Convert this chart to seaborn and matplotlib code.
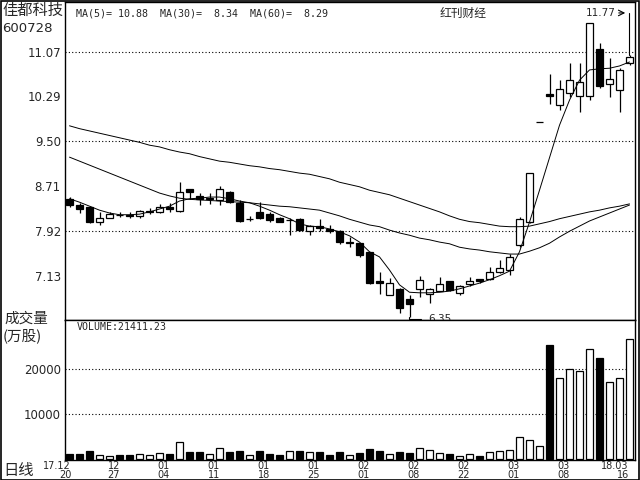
import numpy as np
import pandas as pd
import matplotlib
matplotlib.use("Agg")
import matplotlib.pyplot as plt
import matplotlib.transforms as mtransforms
import seaborn as sns

sns.set_style("white")
plt.rcParams['font.family'] = ['DejaVu Sans', 'Noto Sans CJK SC']

# trading days 2017-12-20 .. 2018-03-16
dates = ['2017-12-20', '2017-12-21', '2017-12-22', '2017-12-25', '2017-12-26', '2017-12-27',
         '2017-12-28', '2017-12-29', '2018-01-02', '2018-01-03', '2018-01-04', '2018-01-05',
         '2018-01-08', '2018-01-09', '2018-01-10', '2018-01-11', '2018-01-12', '2018-01-15',
         '2018-01-16', '2018-01-17', '2018-01-18', '2018-01-19', '2018-01-22', '2018-01-23',
         '2018-01-24', '2018-01-25', '2018-01-26', '2018-01-29', '2018-01-30', '2018-01-31',
         '2018-02-01', '2018-02-02', '2018-02-05', '2018-02-06', '2018-02-07', '2018-02-08',
         '2018-02-09', '2018-02-12', '2018-02-13', '2018-02-14', '2018-02-22', '2018-02-23',
         '2018-02-26', '2018-02-27', '2018-02-28', '2018-03-01', '2018-03-02', '2018-03-05',
         '2018-03-06', '2018-03-07', '2018-03-08', '2018-03-09', '2018-03-12', '2018-03-13',
         '2018-03-14', '2018-03-15', '2018-03-16']

opens = [8.49, 8.38, 8.35, 8.09, 8.16, 8.21, 8.20, 8.18, 8.26, 8.26,
         8.35, 8.28, 8.66, 8.54, 8.48, 8.47, 8.60, 8.42, 8.13, 8.25,
         8.22, 8.16, 8.11, 8.13, 7.92, 8.02, 7.96, 7.93, 7.72, 7.71,
         7.55, 7.05, 6.81, 6.90, 6.74, 6.90, 6.82, 6.88, 7.04, 6.84,
         6.99, 7.08, 7.08, 7.21, 7.24, 7.68, 8.08, 9.83, 10.32, 10.14,
         10.34, 10.30, 10.29, 11.12, 10.50, 10.39, 10.87]
highs = [8.52, 8.42, 8.36, 8.25, 8.25, 8.25, 8.25, 8.29, 8.32, 8.39,
         8.41, 8.79, 8.67, 8.59, 8.59, 8.71, 8.62, 8.46, 8.18, 8.44,
         8.25, 8.17, 8.15, 8.15, 8.03, 8.13, 8.03, 7.94, 7.82, 7.71,
         7.56, 7.21, 7.10, 6.93, 6.80, 7.13, 6.93, 7.11, 7.05, 6.98,
         7.11, 7.09, 7.30, 7.42, 7.52, 8.17, 8.94, 9.83, 10.68, 10.57,
         10.87, 10.87, 11.57, 11.22, 10.96, 10.78, 11.01]
lows = [8.35, 8.24, 8.07, 8.03, 8.15, 8.17, 8.15, 8.16, 8.22, 8.24,
        8.26, 8.25, 8.49, 8.38, 8.40, 8.38, 8.42, 8.09, 8.10, 8.13,
        8.09, 8.08, 7.85, 7.93, 7.85, 7.93, 7.89, 7.70, 7.64, 7.46,
        6.99, 6.82, 6.80, 6.48, 6.42, 6.77, 6.66, 6.87, 6.87, 6.80,
        6.96, 7.01, 7.07, 7.18, 7.15, 7.65, 8.06, 9.83, 10.15, 10.05,
        10.28, 10.01, 10.22, 10.43, 10.27, 10.02, 10.84]
closes = [8.38, 8.31, 8.09, 8.15, 8.22, 8.20, 8.19, 8.28, 8.27, 8.35,
          8.31, 8.61, 8.60, 8.48, 8.50, 8.66, 8.43, 8.10, 8.14, 8.16,
          8.12, 8.09, 8.12, 7.94, 8.01, 7.97, 7.92, 7.74, 7.73, 7.50,
          7.01, 7.01, 7.01, 6.57, 6.64, 7.06, 6.90, 6.99, 6.89, 6.96,
          7.05, 7.05, 7.21, 7.27, 7.47, 8.13, 8.94, 9.83, 10.30, 10.41,
          10.57, 10.54, 11.57, 10.46, 10.59, 10.75, 10.98]
volumes = [1040, 1180, 1780, 890, 670, 890, 890, 1040, 890, 1410,
           1110, 3700, 1480, 1480, 1040, 2370, 1480, 1780, 890, 1780,
           1110, 890, 1780, 1780, 1480, 1480, 890, 1480, 890, 1330,
           2220, 1780, 1110, 1480, 1330, 2440, 1930, 1330, 1110, 670,
           1040, 740, 1480, 1780, 2000, 4890, 4150, 2890, 25330, 17930,
           20000, 19560, 24370, 22370, 17040, 17930, 26590]
ma5 = [8.49, 8.43, 8.36, 8.29, 8.24, 8.21, 8.21, 8.22, 8.26, 8.31,
       8.36, 8.45, 8.49, 8.50, 8.52, 8.52, 8.49, 8.45, 8.42, 8.36,
       8.29, 8.21, 8.14, 8.05, 8.01, 8.00, 7.96, 7.91, 7.84, 7.73,
       7.56, 7.47, 7.24, 6.98, 6.85, 6.84, 6.84, 6.85, 6.87, 6.91,
       6.96, 7.01, 7.07, 7.14, 7.22, 7.56, 8.08, 8.64, 9.21, 9.78,
       10.22, 10.57, 10.75, 10.77, 10.78, 10.82, 10.89]
ma30 = [9.22, 9.15, 9.08, 9.01, 8.94, 8.87, 8.80, 8.73, 8.66, 8.59,
        8.54, 8.50, 8.48, 8.47, 8.46, 8.45, 8.44, 8.43, 8.42, 8.40,
        8.38, 8.36, 8.35, 8.33, 8.31, 8.29, 8.24, 8.19, 8.13, 8.08,
        8.03, 8.00, 7.94, 7.89, 7.85, 7.80, 7.77, 7.73, 7.70, 7.64,
        7.61, 7.59, 7.56, 7.54, 7.52, 7.52, 7.57, 7.63, 7.71, 7.82,
        7.92, 8.01, 8.10, 8.17, 8.24, 8.31, 8.38]
ma60 = [9.77, 9.72, 9.68, 9.64, 9.60, 9.56, 9.52, 9.48, 9.43, 9.40,
        9.35, 9.31, 9.28, 9.23, 9.19, 9.15, 9.13, 9.10, 9.07, 9.05,
        9.02, 9.00, 8.97, 8.94, 8.92, 8.88, 8.84, 8.78, 8.74, 8.70,
        8.64, 8.60, 8.56, 8.50, 8.44, 8.38, 8.32, 8.26, 8.19, 8.13,
        8.09, 8.07, 8.04, 8.01, 8.00, 8.00, 8.01, 8.05, 8.09, 8.14,
        8.18, 8.22, 8.26, 8.29, 8.33, 8.36, 8.40]

price_ticks = [11.07, 10.29, 9.50, 8.71, 7.92, 7.13]
price_grid = [11.07, 9.50, 7.92]
vol_ticks = [20000, 10000]
label_dates = ['2017-12-20', '2017-12-27', '2018-01-04', '2018-01-11', '2018-01-18', '2018-01-25',
               '2018-02-01', '2018-02-08', '2018-02-22', '2018-03-01', '2018-03-08', '2018-03-16']
label_top = ['17.12', '12', '01', '01', '01', '01', '02', '02', '02', '03', '03', '18.03']
label_bottom = ['20', '27', '04', '11', '18', '25', '01', '08', '22', '01', '08', '16']

df = pd.DataFrame({'date': dates, 'open': opens, 'high': highs, 'low': lows,
                   'close': closes, 'volume': volumes,
                   'ma5': ma5, 'ma30': ma30, 'ma60': ma60})
df['idx'] = np.arange(len(df))
df['dir'] = np.where(df['close'] >= df['open'], 'up', 'down')

fig = plt.figure(figsize=(6.4, 4.8), dpi=100)
W, H = 640.0, 480.0
ax = fig.add_axes([65 / W, 1 - 320 / H, 570 / W, 318 / H])
axv = fig.add_axes([65 / W, 1 - 460 / H, 570 / W, 140 / H])

# candles
ax.vlines(df['idx'], df['low'], df['high'], color='black', lw=0.9, zorder=2)
body_bottom = np.minimum(df['open'], df['close'])
body_h = np.maximum((df['close'] - df['open']).abs(), 0.008)
faces = ['white' if d == 'up' else 'black' for d in df['dir']]
ax.bar(df['idx'], body_h, bottom=body_bottom, width=0.65, color=faces,
       edgecolor='black', linewidth=0.9, zorder=3)

for col in ['ma5', 'ma30', 'ma60']:
    sns.lineplot(data=df, x='idx', y=col, color='black', lw=0.7, ax=ax, zorder=4)

for g in price_grid:
    ax.axhline(g, color='black', lw=0.8, ls=(0, (1, 2)), zorder=1)

ax.set_xlim(-0.45, 56.55)
ax.set_ylim(6.363, 11.942)
ax.set_yticks(price_ticks)
ax.set_yticklabels(['%.2f' % t for t in price_ticks])
ax.set_xticks([])
ax.set_xlabel('')
ax.set_ylabel('')
ax.tick_params(axis='y', length=0, pad=3, labelsize=8.5)

# extreme price markers
hi_i = 56
ax.annotate('', xy=(55.85, 11.75), xytext=(54.65, 11.75),
            arrowprops=dict(arrowstyle='->', lw=0.8, color='black'))
ax.plot([55.9, 55.9], [11.75, df['high'][hi_i]], color='black', lw=0.8)
ax.text(54.6, 11.75, '11.77', ha='right', va='center', fontsize=7.5)
lo_i = 34
ax.plot([lo_i - 0.1, lo_i - 0.1, lo_i + 1.1], [df['low'][lo_i], 6.38, 6.38], color='black', lw=0.8)
ax.text(lo_i + 1.9, 6.38, '6.35', ha='left', va='center', fontsize=7.5)

# volume
sns.barplot(data=df, x='idx', y='volume', hue='dir', palette={'up': 'white', 'down': 'black'},
            native_scale=True, dodge=False, width=0.7, edgecolor='black', linewidth=0.9,
            errorbar=None, legend=False, ax=axv)
for g in vol_ticks:
    axv.axhline(g, color='black', lw=0.8, ls=(0, (1, 2)), zorder=0)
axv.set_xlim(-0.45, 56.55)
axv.set_ylim(-222, 30889)
axv.set_yticks(vol_ticks)
axv.set_yticklabels([str(v) for v in vol_ticks])
axv.set_xticks([])
axv.set_xlabel('')
axv.set_ylabel('')
axv.tick_params(axis='y', length=0, pad=3, labelsize=8.5)

for a in (ax, axv):
    for s in a.spines.values():
        s.set_color('black')
        s.set_linewidth(1.0)

# date labels under the volume panel
trans = mtransforms.blended_transform_factory(axv.transData, fig.transFigure)
for d, top, bot in zip(label_dates, label_top, label_bottom):
    i = dates.index(d)
    if top == '17.12':
        axv.text(i + 0.15, 1 - 466 / H, top, transform=trans, ha='right', va='center', fontsize=7)
        axv.text(i - 0.45, 1 - 475 / H, bot, transform=trans, ha='center', va='center', fontsize=7)
    elif top == '18.03':
        axv.text(i - 0.15, 1 - 466 / H, top, transform=trans, ha='right', va='center', fontsize=7)
        axv.text(i - 0.6, 1 - 475 / H, bot, transform=trans, ha='center', va='center', fontsize=7)
    else:
        axv.text(i - 0.55, 1 - 466 / H, top, transform=trans, ha='center', va='center', fontsize=7)
        axv.text(i - 0.55, 1 - 475 / H, bot, transform=trans, ha='center', va='center', fontsize=7)

cjk = ['Noto Sans CJK SC', 'DejaVu Sans']
fig.text(2 / W, 1 - 10 / H, '佳都科技', family=cjk, fontsize=11, va='center', ha='left')
fig.text(2 / W, 1 - 28 / H, '600728', fontsize=9.5, va='center', ha='left')
fig.text(76 / W, 1 - 13 / H, 'MA(5)= 10.88  MA(30)=  8.34  MA(60)=  8.29',
         family='DejaVu Sans Mono', fontsize=7.2, va='center', ha='left')
fig.text(463 / W, 1 - 13 / H, '红刊财经', family=cjk, fontsize=8.5, va='center', ha='center')
fig.text(77 / W, 1 - 327 / H, 'VOLUME:21411.23', family='DejaVu Sans Mono', fontsize=7.1,
         va='center', ha='left')
fig.text(4 / W, 1 - 319 / H, '成交量', family=cjk, fontsize=10.5, va='center', ha='left')
fig.text(3 / W, 1 - 336 / H, '(万股)', family=cjk, fontsize=10.5, va='center', ha='left')
fig.text(3 / W, 1 - 470 / H, '日线', family=cjk, fontsize=11, va='center', ha='left')

fig.patches.append(plt.Rectangle((0.5 / W, 0.5 / H), 638 / W, 478.5 / H, transform=fig.transFigure,
                                 fill=False, edgecolor='black', lw=1.2))

fig.savefig('out.png', dpi=100)
